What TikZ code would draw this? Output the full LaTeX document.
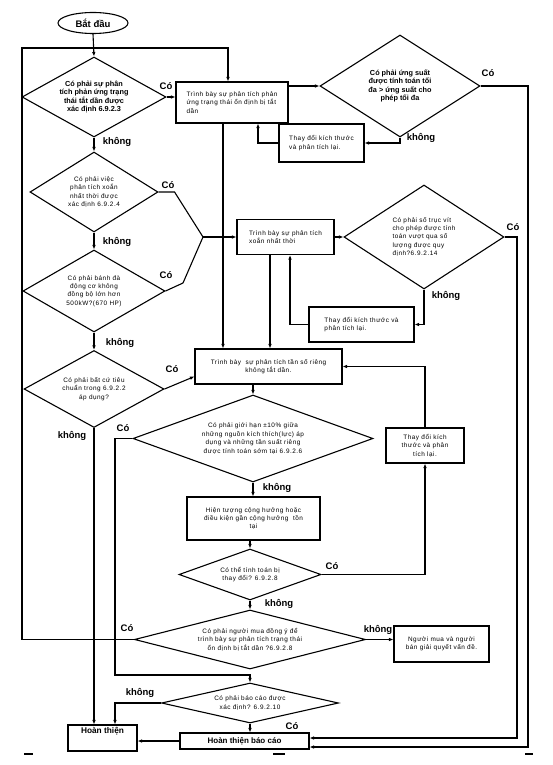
\documentclass[tikz,border=0pt]{standalone}
\usepackage{fontspec}
\setmainfont{Liberation Sans}
\newfontfamily\lite[LetterSpace=8]{Liberation Sans}
\usetikzlibrary{shapes.geometric,arrows.meta,calc}
\begin{document}
\begin{tikzpicture}[x=1pt,y=-1pt,
  every node/.style={inner sep=0pt},
  ln/.style={line width=1.1pt, draw=black},
  arr/.style={ln, -{Latex[length=4.5pt,width=3.6pt]}},
  dia/.style={diamond, draw, line width=1.1pt, inner sep=0pt, align=center},
  bx/.style={rectangle, draw, line width=1.1pt, inner sep=3pt},
  bf/.style={font=\fontsize{7.3}{8.6}\selectfont\bfseries},
  lt/.style={font=\lite\fontsize{6.4}{8.4}\selectfont},
  lab/.style={font=\fontsize{9.5}{10}\selectfont\bfseries},
  cropmark/.style={line width=2.5pt, draw=black}
]
\useasboundingbox[fill=white] (0,0) rectangle (552,765);

% start
\node[ellipse, draw, line width=1.1pt, minimum width=70pt, minimum height=21pt,
  font=\fontsize{9.5}{10}\selectfont\bfseries] (start) at (93,23) {Bắt đầu};

% diamonds
\node[dia, bf, minimum width=144pt, minimum height=80pt, shape aspect=1.8] (d1) at (94,97)
  {Có phải sự phân\\tích phản ứng trạng\\thái tắt dần được\\xác định 6.9.2.3};
\node[dia, bf, minimum width=160pt, minimum height=102pt, shape aspect=1.57] (d2) at (400,86)
  {Có phải ứng suất\\được tính toán tối\\đa > ứng suất cho\\phép tối đa};
\node[dia, lt, minimum width=128pt, minimum height=80pt, shape aspect=1.6] (d3) at (94,192)
  {Có phải việc\\phân tích xoắn\\nhất thời được\\xác định 6.9.2.4};
\node[dia, lt, minimum width=142pt, minimum height=82pt, shape aspect=1.73] (d4) at (94,291)
  {Có phải bánh đà\\động cơ không\\đồng bộ lớn hơn\\500kW?(670 HP)};
\node[dia, lt, minimum width=140pt, minimum height=77pt, shape aspect=1.82] (d5) at (94,389)
  {Có phải bất cứ tiêu\\chuẩn trong 6.9.2.2\\áp dụng?};
\node[dia, lt, minimum width=240pt, minimum height=87pt, shape aspect=2.76] (d6) at (253,438.5)
  {Có phải giới hạn ±10\% giữa\\những nguồn kích thích(lực) áp\\dụng và những tần suất riêng\\được tính toán sớm tại 6.9.2.6};
\node[dia, lt, align=left, minimum width=160pt, minimum height=104pt, shape aspect=1.54] (d7) at (424,237)
  {Có phải số trục vít\\cho phép được tính\\toán vượt qua số\\lượng được quy\\định?6.9.2.14};
\node[dia, lt, minimum width=142pt, minimum height=51pt, shape aspect=2.78] (d8) at (250,574.5)
  {Có thể tính toán bị\\thay đổi? 6.9.2.8};
\node[dia, lt, minimum width=231pt, minimum height=59pt, shape aspect=3.9] (d9) at (250,639.5)
  {Có phải người mua đồng ý để\\trình bày sự phân tích trạng thái\\ổn định bị tắt dần ?6.9.2.8};
\node[dia, lt, minimum width=177pt, minimum height=40pt, shape aspect=4.4] (d10) at (250,703)
  {Có phải báo cáo được\\xác định? 6.9.2.10};

% boxes
\node[bx, lt, align=left, minimum width=112pt, minimum height=41pt] (box1) at (232,102.5)
  {Trình bày sự phân tích phản\\ứng trạng thái ổn định bị tắt\\dần};
\node[bx, lt, align=left, minimum width=85pt, minimum height=38pt] (chg1) at (321.5,143)
  {Thay đổi kích thước\\và phân tích lại.};
\node[bx, lt, align=left, minimum width=97pt, minimum height=35pt] (boxtor) at (285.5,237)
  {Trình bày sự phân tích\\xoắn nhất thời};
\node[bx, lt, align=left, minimum width=105pt, minimum height=35pt] (chg2) at (361.5,324.5)
  {Thay đổi kích thước và\\phân tích lại.};
\node[bx, lt, align=center, minimum width=147pt, minimum height=35pt] (boxfreq) at (268.5,366.5)
  {Trình bày~~sự phân tích tần số riêng\\không tắt dần.};
\node[bx, lt, align=center, minimum width=78pt, minimum height=35pt] (chg3) at (425,445.5)
  {Thay đổi kích\\thước và phân\\tích lại.};
\node[bx, lt, align=center, minimum width=133pt, minimum height=43pt] (boxres) at (253.5,518.5)
  {Hiện tượng cộng hưởng hoặc\\điều kiện gần cộng hưởng~~tồn\\tại};
\node[bx, lt, align=center, minimum width=95pt, minimum height=36pt] (boxbuyer) at (441.5,644)
  {Người mua và người\\bán giải quyết vấn đề.};
\node[bx, minimum width=129pt, minimum height=16pt, font=\fontsize{8}{9}\selectfont\bfseries] (boxfinal) at (244.5,741)
  {Hoàn thiện báo cáo};
\node[bx, minimum width=69pt, minimum height=26pt,
  label={[anchor=north, inner sep=3pt, font=\fontsize{8.3}{9}\selectfont\bfseries]north:Hoàn thiện}] (hoan) at (102.5,738) {};

% coordinates
\coordinate (cL) at (22,48);
\coordinate (cR1) at (528,86);
\coordinate (cR2) at (517,237);
\coordinate (cM) at (203,237);
\coordinate (cK) at (183,283);
\coordinate (cA) at (115,675);

% connectors
\draw[arr] (start.south) -- (d1.north);
\draw[arr] (d9.west) -| (cL) -| ([xshift=-4pt]box1.north);
\draw[arr] (d1.east) -- (d1.east -| box1.west);
\draw[arr] (box1.east |- d2.west) -- (d2.west);
\draw[arr] (d2.east) -- (cR1) |- ([yshift=-6pt]boxfinal.east);
\draw[arr] (d2.south) |- (chg1.east);
\draw[arr] (chg1.west) -| ([xshift=26pt]box1.south);
\draw[arr] ([xshift=-9pt]box1.south) -- ([xshift=-9pt]box1.south |- boxfreq.north);
\draw[arr] (d1.south) -- (d3.north);
\draw[arr] (d3.south) -- (d4.north);
\draw[arr] (d4.south) -- (d5.north);
\draw[ln] (d3.east) -- ++(16,0) -- (cM);
\draw[ln] (d4.east) -- (cK) -- (cM);
\draw[arr] (cM) -- (boxtor.west);
\draw[arr] (boxtor.east) -- (d7.west);
\draw[arr] (d7.east) -- (cR2) |- ([yshift=3pt]boxfinal.east);
\draw[arr] (d7.south) |- (chg2.east);
\draw[arr] (chg2.west) -| ([xshift=4.5pt]boxtor.south);
\draw[arr] ([xshift=-15.5pt]boxtor.south) -- ([xshift=-15.5pt]boxtor.south |- boxfreq.north);
\draw[arr] (d5.east) -- ([yshift=-10pt]boxfreq.west);
\draw[arr] (d5.south) -- (d5.south |- hoan.north);
\draw[arr] (boxfreq.south -| d6.north) -- (d6.north);
\draw[arr] (chg3.north) |- (boxfreq.east);
\draw[arr] (d8.east) -| (chg3.south);
\draw[arr] (d6.west) -| (cA) -| (d10.north);
\draw[arr] (d6.south) -- (d6.south |- boxres.north);
\draw[arr] (boxres.south -| d8.north) -- (d8.north);
\draw[arr] (d8.south) -- (d9.north);
\draw[arr] (d9.east) -- (d9.east -| boxbuyer.west);
\draw[arr] (d10.west) -| ([xshift=12.5pt]hoan.north);
\draw[arr] (d10.south) -- (d10.south |- boxfinal.north);
\draw[arr] (boxfinal.west) -- (boxfinal.west -| hoan.east);

% labels
\node[lab] (l1) at (166,86) {Có};
\node[lab] (l2) at (117,142) {không};
\node[lab] (l3) at (168,185) {Có};
\node[lab] (l4) at (117,242) {không};
\node[lab] (l5) at (166,275) {Có};
\node[lab] (l6) at (120,343) {không};
\node[lab] (l7) at (172,369) {Có};
\node[lab] (l8) at (72,436) {không};
\node[lab] (l9) at (123,428) {Có};
\node[lab] (l10) at (277,488) {không};
\node[lab] (l11) at (488,73) {Có};
\node[lab] (l12) at (421,138) {không};
\node[lab] (l13) at (513,227) {Có};
\node[lab] (l14) at (446,296) {không};
\node[lab] (l15) at (332,566) {Có};
\node[lab] (l16) at (279,604) {không};
\node[lab] (l17) at (127,628) {Có};
\node[lab] (l18) at (378,630) {không};
\node[lab] (l19) at (140,693) {không};
\node[lab] (l20) at (292,726) {Có};

% crop marks
\draw[cropmark] (24,754) -- (33,754);
\draw[cropmark] (273,754) -- (285,754);
\draw[cropmark] (525,754) -- (533,754);
\end{tikzpicture}
\end{document}
